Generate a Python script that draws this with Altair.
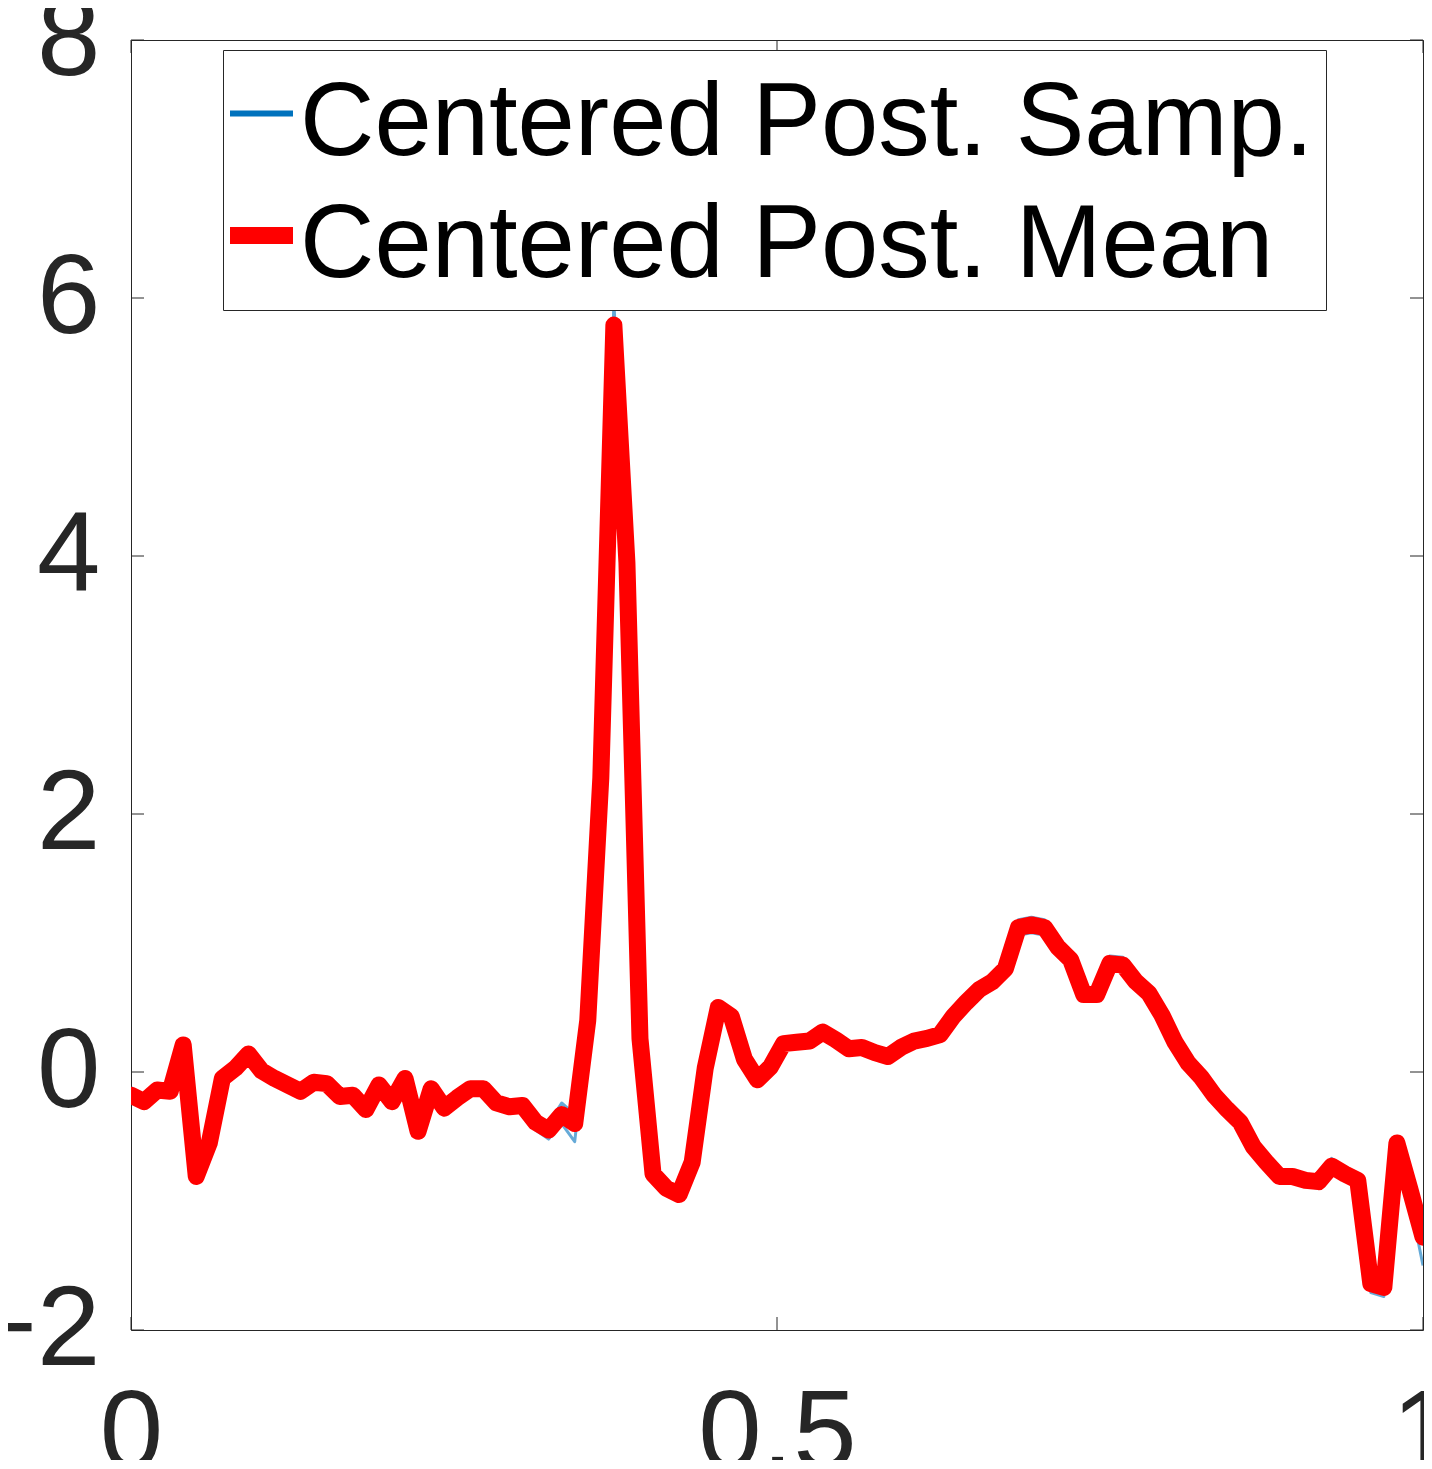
import altair as alt
import numpy as np
import pandas as pd

# ---------------- data ----------------
x_grid = np.linspace(0, 1, 100)

mean_vals = [
    -0.18, -0.23, -0.14, -0.15, 0.21, -0.81, -0.55, -0.05, 0.03, 0.14,
    0.01, -0.05, -0.10, -0.15, -0.08, -0.09, -0.19, -0.18, -0.29, -0.10,
    -0.23, -0.05, -0.46, -0.13, -0.28, -0.20, -0.13, -0.13, -0.24, -0.27,
    -0.26, -0.39, -0.45, -0.33, -0.40, 0.40, 2.28, 5.79, 3.95, 0.26,
    -0.79, -0.90, -0.95, -0.70, 0.03, 0.50, 0.43, 0.10, -0.06, 0.04,
    0.22, 0.23, 0.24, 0.31, 0.25, 0.18, 0.19, 0.15, 0.12, 0.19,
    0.24, 0.26, 0.29, 0.43, 0.54, 0.64, 0.70, 0.80, 1.12, 1.14,
    1.12, 0.97, 0.87, 0.60, 0.60, 0.84, 0.83, 0.70, 0.61, 0.44,
    0.23, 0.07, -0.04, -0.18, -0.29, -0.39, -0.58, -0.70, -0.81, -0.81,
    -0.84, -0.85, -0.73, -0.79, -0.84, -1.64, -1.67, -0.55, -0.91, -1.28,
]

samp_hi = [
    -0.12, -0.21, -0.13, -0.14, 0.22, -0.80, -0.54, -0.04, 0.04, 0.15,
    0.02, -0.04, -0.09, -0.14, -0.07, -0.08, -0.17, -0.17, -0.27, -0.09,
    -0.21, -0.04, -0.44, -0.11, -0.24, -0.16, -0.09, -0.09, -0.19, -0.22,
    -0.21, -0.33, -0.40, -0.24, -0.33, 0.43, 2.30, 5.97, 3.97, 0.28,
    -0.77, -0.88, -0.93, -0.68, 0.05, 0.52, 0.45, 0.12, -0.04, 0.06,
    0.24, 0.25, 0.26, 0.33, 0.27, 0.20, 0.21, 0.17, 0.14, 0.21,
    0.26, 0.28, 0.31, 0.45, 0.56, 0.66, 0.72, 0.83, 1.18, 1.20,
    1.18, 1.01, 0.91, 0.63, 0.63, 0.90, 0.89, 0.74, 0.64, 0.46,
    0.25, 0.09, -0.02, -0.16, -0.27, -0.37, -0.55, -0.66, -0.77, -0.77,
    -0.79, -0.80, -0.67, -0.74, -0.80, -1.62, -1.65, -0.51, -0.88, -1.26,
]

samp_lo = [
    -0.20, -0.25, -0.16, -0.17, 0.19, -0.83, -0.57, -0.07, 0.01, 0.12,
    -0.01, -0.07, -0.12, -0.17, -0.10, -0.11, -0.21, -0.20, -0.31, -0.12,
    -0.25, -0.07, -0.48, -0.15, -0.32, -0.24, -0.17, -0.17, -0.28, -0.31,
    -0.30, -0.45, -0.52, -0.40, -0.54, 0.37, 2.26, 5.75, 3.93, 0.24,
    -0.83, -0.94, -0.99, -0.73, 0.01, 0.48, 0.41, 0.08, -0.08, 0.02,
    0.20, 0.21, 0.22, 0.29, 0.23, 0.16, 0.17, 0.13, 0.10, 0.17,
    0.22, 0.24, 0.27, 0.41, 0.52, 0.62, 0.68, 0.77, 1.06, 1.08,
    1.06, 0.93, 0.83, 0.55, 0.55, 0.80, 0.79, 0.67, 0.58, 0.42,
    0.21, 0.05, -0.06, -0.20, -0.31, -0.41, -0.61, -0.74, -0.86, -0.86,
    -0.89, -0.90, -0.78, -0.84, -0.89, -1.71, -1.74, -0.59, -1.00, -1.50,
]

series_names = ["Centered Post. Samp.", "Centered Post. Mean"]
y_ticks = [-2, 0, 2, 4, 6, 8]
x_ticks = [0, 0.5, 1]

rows = []
for run, vals in (("hi", samp_hi), ("lo", samp_lo)):
    for xv, yv in zip(x_grid, vals):
        rows.append({"x": float(xv), "y": yv, "series": series_names[0], "run": run})
for xv, yv in zip(x_grid, mean_vals):
    rows.append({"x": float(xv), "y": yv, "series": series_names[1], "run": "mean"})
df = pd.DataFrame(rows)

ytick_df = pd.DataFrame({"v": y_ticks})
xtick_df = pd.DataFrame({"v": x_ticks})

# ---------------- style ----------------
W, H = 1292, 1290
AX = "#262626"
FONT = "Liberation Sans"
TICK_LEN = 13

xs = alt.Scale(domain=[0, 1], nice=False, zero=False)
ys = alt.Scale(domain=[-2, 8], nice=False, zero=False)

x_axis = alt.Axis(values=x_ticks, format="~g", title=None, grid=False, domain=False,
                  ticks=False, labelFont=FONT, labelFontSize=114, labelColor=AX,
                  labelPadding=48, labelFlush=False, labelOverlap=False,
                  labelBound=False, labelBaseline="top", labelAlign="center")
y_axis = alt.Axis(values=y_ticks, format="~g", title=None, grid=False, domain=False,
                  ticks=False, labelFont=FONT, labelFontSize=114, labelColor=AX,
                  labelPadding=31, labelFlush=False, labelOverlap=False,
                  labelBound=False, labelBaseline="middle", labelAlign="right")

legend = alt.Legend(
    title=None, orient="none", legendX=92, legendY=10,
    fillColor="white", strokeColor=AX, padding=12, cornerRadius=0,
    labelFont=FONT, labelFontSize=103, labelColor="black", labelLimit=0,
    labelBaseline="line-top",
    labelOffset=alt.ExprRef("-13"), symbolOffset=-25, rowPadding=8,
    symbolType="stroke", symbolSize=3969, symbolOpacity=1,
    symbolStrokeWidth=alt.ExprRef("datum.value === 'Centered Post. Mean' ? 17 : 6"),
)

color = alt.Color("series:N",
                  scale=alt.Scale(domain=series_names, range=["#0072BD", "#FF0000"]),
                  legend=legend)

base = alt.Chart(df)

samples = base.transform_filter(alt.datum.run != "mean").mark_line(
    strokeWidth=3, opacity=0.6, strokeJoin="round", clip=True
).encode(
    x=alt.X("x:Q", scale=xs, axis=x_axis),
    y=alt.Y("y:Q", scale=ys, axis=y_axis),
    color=color,
    detail="run:N",
)

mean_line = base.transform_filter(alt.datum.run == "mean").mark_line(
    strokeWidth=17, strokeJoin="round", strokeCap="round", clip=True
).encode(
    x=alt.X("x:Q", scale=xs, axis=x_axis),
    y=alt.Y("y:Q", scale=ys, axis=y_axis),
    color=color,
)

# inward ticks on all four sides
yt = alt.Chart(ytick_df)
left_ticks = yt.mark_rule(color=AX, strokeWidth=1).encode(
    y=alt.Y("v:Q", scale=ys), x=alt.value(0), x2=alt.value(TICK_LEN))
right_ticks = yt.mark_rule(color=AX, strokeWidth=1).encode(
    y=alt.Y("v:Q", scale=ys), x=alt.value(W - TICK_LEN), x2=alt.value(W))
xt = alt.Chart(xtick_df)
bottom_ticks = xt.mark_rule(color=AX, strokeWidth=1).encode(
    x=alt.X("v:Q", scale=xs), y=alt.value(H), y2=alt.value(H - TICK_LEN))
top_ticks = xt.mark_rule(color=AX, strokeWidth=1).encode(
    x=alt.X("v:Q", scale=xs), y=alt.value(0), y2=alt.value(TICK_LEN))

chart = alt.layer(
    left_ticks, right_ticks, bottom_ticks, top_ticks, samples, mean_line
).properties(
    width=W, height=H,
    autosize=alt.AutoSizeParams(type="none"),
    padding={"left": 123, "top": 32, "right": 1, "bottom": 130},
    background="white",
).configure(
    view=alt.ViewConfig(stroke=AX, strokeWidth=1),
    style={"guide-label": {"lineHeight": 22}},
)

chart.save("out.html", embed_options={"renderer": "svg", "actions": False})
